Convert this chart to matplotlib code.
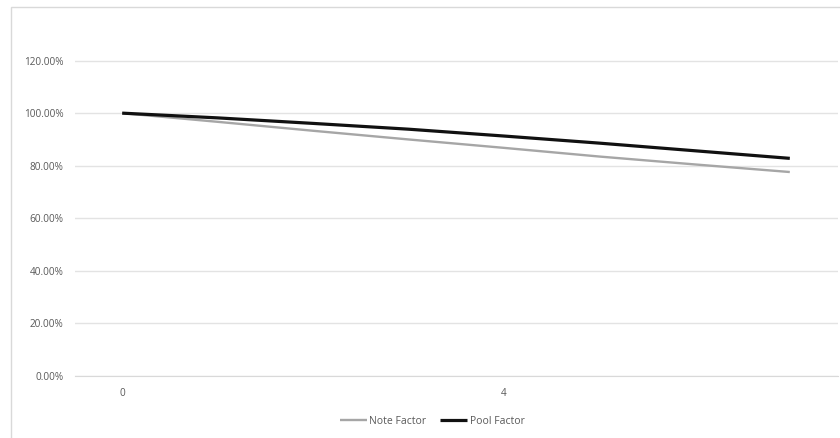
#!/usr/bin/env python3
"""
Note factor vs pool factor line chart
"""

import matplotlib
matplotlib.use("Agg")
import matplotlib.pyplot as plt
from matplotlib.patches import Rectangle
from matplotlib.ticker import FuncFormatter

# Data
periods = [0, 1, 2, 3, 4, 5, 6, 7]
note_factor = [1.000, 0.967, 0.933, 0.900, 0.868, 0.835, 0.805, 0.776]
pool_factor = [1.000, 0.982, 0.961, 0.939, 0.913, 0.886, 0.857, 0.828]
y_ticks = [0.0, 0.2, 0.4, 0.6, 0.8, 1.0, 1.2]
x_tick_pos = [0, 4]
x_tick_labels = ["0", "4"]

W, H = 840, 438
TXT = "#595959"
GRID = "#e3e3e3"

plt.rcParams["font.family"] = ["Open Sans", "DejaVu Sans"]


def pct(x, pos):
    return f"{x * 100:.2f}%"


def main():
    fig = plt.figure(figsize=(W / 100, H / 100), dpi=100)

    # chart frame (top and left edges visible)
    fig.patches.append(Rectangle((11 / W, -0.05), 1.2, 1 - 7 / H + 0.05,
                                 transform=fig.transFigure, fill=False,
                                 edgecolor="#d9d9d9", lw=1.0))

    ax = fig.add_axes([74.5 / W, 1 - 376 / H, (837.5 - 74.5) / W, (376 - 8) / H])
    ax.plot(periods, note_factor, color="#a6a6a6", lw=1.7, label="Note Factor",
            solid_capstyle="butt")
    ax.plot(periods, pool_factor, color="#111111", lw=2.3, label="Pool Factor",
            solid_capstyle="butt")

    ax.set_xlim(-0.5, 7.5)
    ax.set_ylim(0, 1.4)
    ax.set_yticks(y_ticks)
    ax.yaxis.set_major_formatter(FuncFormatter(pct))
    ax.set_xticks(x_tick_pos)
    ax.set_xticklabels(x_tick_labels)
    ax.grid(axis="y", color=GRID, lw=1.0)
    ax.set_axisbelow(True)
    for s in ax.spines.values():
        s.set_visible(False)
    ax.spines["bottom"].set_visible(True)
    ax.spines["bottom"].set_color("#d9d9d9")
    ax.tick_params(length=0, labelsize=7.2, colors=TXT)
    ax.tick_params(axis="y", pad=8)
    ax.tick_params(axis="x", pad=9)

    fig.legend(loc="center", bbox_to_anchor=(432 / W, 1 - 421 / H), ncol=2,
               frameon=False, fontsize=7.5, labelcolor=TXT, handlelength=2.6,
               handletextpad=0.2, columnspacing=1.4)

    fig.savefig("out.png", dpi=100)
    plt.close(fig)


if __name__ == "__main__":
    main()
